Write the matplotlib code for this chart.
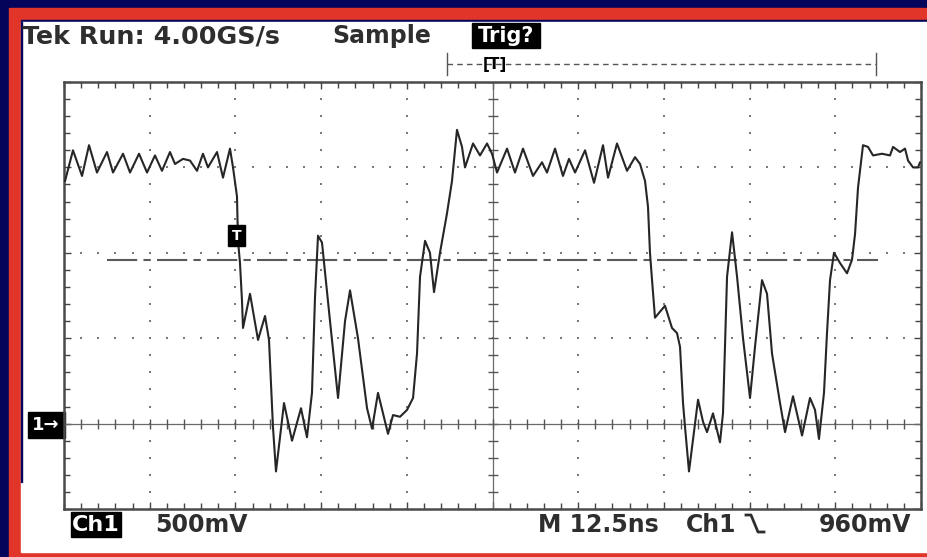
import numpy as np
import matplotlib
matplotlib.use('Agg')
import matplotlib.pyplot as plt
from matplotlib.patches import Rectangle

# ---- data (time in ns from left edge, volts) ----
time_ns = [0.15, 1.31, 2.63, 3.65, 4.81, 6.27, 7.15, 8.61, 9.63, 10.94,
           12.11, 13.27, 14.29, 15.46, 16.19, 17.36, 18.38, 19.40, 20.27, 21.00,
           22.32, 23.19, 24.21, 24.65, 25.23, 25.38, 25.67, 25.96, 26.11, 27.13,
           28.30, 29.32, 29.90, 30.48, 30.92, 32.09, 33.26, 34.57, 35.44, 36.17,
           36.61, 37.05, 37.63, 38.80, 39.97, 40.99, 41.72, 42.88, 44.20, 44.93,
           45.80, 47.26, 47.99, 49.01, 50.03, 50.91, 51.49, 51.93, 52.66, 53.38,
           53.97, 54.84, 55.86, 56.59, 57.32, 58.05, 58.49, 59.66, 60.68, 61.70,
           62.43, 63.16, 64.62, 65.78, 66.95, 68.41, 69.72, 70.45, 71.62, 72.78,
           73.66, 74.54, 76.00, 77.31, 78.62, 79.35, 80.66, 82.12, 83.29, 84.02,
           84.75, 85.18, 85.47, 85.77, 86.20, 87.66, 88.68, 89.41, 89.85, 90.29,
           90.58, 91.16, 92.48, 93.21, 93.79, 94.66, 95.68, 96.12, 96.71, 97.44,
           98.17, 99.04, 100.06, 100.79, 101.81, 102.54, 103.27, 104.44, 105.17, 106.33,
           107.65, 108.81, 109.54, 110.12, 110.85, 111.29, 111.73, 112.31, 113.19, 114.21,
           114.94, 115.38, 115.81, 116.54, 117.27, 118.00, 119.31, 120.48, 120.92, 121.94,
           122.67, 123.11, 123.84, 124.57, 124.86]
volts = [1.42, 1.60, 1.45, 1.63, 1.47, 1.59, 1.47, 1.58, 1.47, 1.58,
         1.47, 1.57, 1.48, 1.59, 1.52, 1.55, 1.54, 1.48, 1.58, 1.50,
         1.59, 1.44, 1.61, 1.50, 1.33, 1.07, 0.94, 0.72, 0.56, 0.76,
         0.49, 0.63, 0.49, -0.02, -0.28, 0.12, -0.10, 0.09, -0.08, 0.18,
         0.74, 1.10, 1.06, 0.60, 0.15, 0.60, 0.78, 0.50, 0.09, -0.03,
         0.18, -0.06, 0.05, 0.04, 0.08, 0.15, 0.41, 0.86, 1.07, 1.00,
         0.77, 1.00, 1.23, 1.42, 1.72, 1.62, 1.50, 1.64, 1.57, 1.64,
         1.58, 1.47, 1.61, 1.47, 1.61, 1.45, 1.53, 1.47, 1.61, 1.45,
         1.55, 1.47, 1.60, 1.41, 1.63, 1.44, 1.64, 1.48, 1.56, 1.52,
         1.42, 1.27, 1.00, 0.84, 0.62, 0.69, 0.56, 0.53, 0.45, 0.12,
         -0.02, -0.28, 0.14, 0.01, -0.05, 0.06, -0.11, 0.06, 0.86, 1.12,
         0.86, 0.50, 0.15, 0.45, 0.84, 0.76, 0.41, 0.12, -0.05, 0.16,
         -0.07, 0.15, 0.08, -0.09, 0.18, 0.53, 0.84, 1.00, 0.94, 0.88,
         0.96, 1.11, 1.38, 1.63, 1.62, 1.57, 1.58, 1.57, 1.62, 1.59,
         1.61, 1.54, 1.50, 1.50, 1.53]

trigger_level_v = 0.96
trigger_mark_t, trigger_mark_v = 25.2, 1.10
ns_per_div = 12.5
v_per_div = 0.5
n_hdiv = 10
v_min, v_max = -0.5, 2.0

header_left = "Tek Run: 4.00GS/s"
header_mode = "Sample"
header_trig = "Trig?"
footer_ch = "Ch1"
footer_scale = "500mV"
footer_time = "M 12.5ns"
footer_src = "Ch1"
footer_level = "960mV"

NAVY = '#03045a'
RED = '#e1352a'
INK = '#2e2e2e'

W, H = 928, 557
fig = plt.figure(figsize=(W / 100, H / 100), dpi=100)

# ---- background frame (pixel coordinates) ----
bg = fig.add_axes([0, 0, 1, 1], zorder=0)
bg.set_xlim(0, W)
bg.set_ylim(H, 0)
bg.axis('off')
bg.add_patch(Rectangle((0, 0), W, H, color=NAVY))
bg.add_patch(Rectangle((9, 8), W - 9, H - 8, color=RED))
bg.add_patch(Rectangle((21, 20), W - 21, 2, color=NAVY))
bg.add_patch(Rectangle((21, 22), W - 21, 530, color='white'))
bg.add_patch(Rectangle((21, 22), 1.5, 460, color=NAVY))

tfont = dict(family='DejaVu Sans', fontsize=17, fontweight='bold', color=INK)
bg.text(22, 36, header_left, ha='left', va='center', family='DejaVu Sans',
        fontsize=18.3, fontweight='bold', color=INK)
bg.text(332, 36, header_mode, ha='left', va='center', **tfont)
bg.add_patch(Rectangle((472, 23), 68, 25, color='black'))
bg.text(506, 36, header_trig, ha='center', va='center', family='DejaVu Sans',
        fontsize=15, fontweight='bold', color='white')

# trigger position bar
bg.plot([447, 876], [64, 64], color='#555555', lw=1.0, ls=(0, (4, 3)))
bg.plot([447, 447], [53, 75], color='#555555', lw=1.0)
bg.plot([876, 876], [53, 75], color='#555555', lw=1.0)
bg.text(495, 64, "[T]", ha='center', va='center', family='DejaVu Sans',
        fontsize=11, fontweight='bold', color='black')

# footer
bg.add_patch(Rectangle((71, 512), 50, 25, color='black'))
bg.text(96, 525, footer_ch, ha='center', va='center', family='DejaVu Sans',
        fontsize=16, fontweight='bold', color='white')
bg.text(155, 525, footer_scale, ha='left', va='center', **tfont)
bg.text(538, 525, footer_time, ha='left', va='center', **tfont)
bg.text(686, 525, footer_src, ha='left', va='center', **tfont)
bg.plot([746, 751, 758, 764], [515, 515, 532, 532], color=INK, lw=2.0)
bg.text(911, 525, footer_level, ha='right', va='center', **tfont)

# channel ground marker
bg.add_patch(Rectangle((28, 412), 37, 26, color='black'))
bg.text(46, 425, "1\u2192", ha='center', va='center', family='DejaVu Sans',
        fontsize=13, fontweight='bold', color='white')

# ---- graticule axes ----
ax = fig.add_axes([64 / W, (H - 509) / H, 857 / W, 427 / H], zorder=1)
ax.set_facecolor('none')
t_max = n_hdiv * ns_per_div
ax.set_xlim(0, t_max)
ax.set_ylim(v_min, v_max)
xmaj = np.arange(0, t_max + 1e-9, ns_per_div)
xmin = np.arange(0, t_max + 1e-9, ns_per_div / 5)
ymaj = np.arange(v_min, v_max + 1e-9, v_per_div)
ymin = np.arange(v_min, v_max + 1e-9, v_per_div / 5)
ax.set_xticks(xmaj)
ax.set_xticks(xmin, minor=True)
ax.set_yticks(ymaj)
ax.set_yticks(ymin, minor=True)
ax.tick_params(which='both', direction='in', top=True, right=True,
               labelbottom=False, labelleft=False, color='#444444', width=1.0)
ax.tick_params(which='major', length=5)
ax.tick_params(which='minor', length=4)
for s in ax.spines.values():
    s.set_color('#4a4a4a')
    s.set_linewidth(1.8)

t_center = t_max / 2
# dotted grid
for xv in xmaj[1:-1]:
    if abs(xv - t_center) < 1e-6:
        continue
    ax.plot(np.full_like(ymin, xv), ymin, ls='none', marker='s', ms=1.8,
            color='#7a7a7a', mew=0)
for yv in ymaj[1:-1]:
    if abs(yv) < 1e-6:
        continue
    ax.plot(xmin, np.full_like(xmin, yv), ls='none', marker='s', ms=1.8,
            color='#7a7a7a', mew=0)
# center cross lines with ticks
ax.axvline(t_center, color='#6a6a6a', lw=0.9)
ax.plot(np.full_like(ymin, t_center), ymin, ls='none', marker='_', ms=7,
        color='#555555', mew=1.0)
ax.axhline(0, color='#6a6a6a', lw=0.9)
ax.plot(xmin, np.zeros_like(xmin), ls='none', marker='|', ms=7,
        color='#555555', mew=1.0)

# trigger level dash-dot line
ax.plot([6.3, 118.7], [trigger_level_v, trigger_level_v], color='#5a5a5a',
        lw=1.5, ls=(0, (14.5, 3, 3.5, 3)), zorder=3)

# waveform
ax.plot(time_ns, volts, color='#262626', lw=1.5, zorder=5,
        solid_joinstyle='round', solid_capstyle='round')

# trigger marker
ax.text(trigger_mark_t, trigger_mark_v, "T", ha='center', va='center',
        family='DejaVu Sans', fontsize=10, fontweight='bold', color='white',
        zorder=6, bbox=dict(boxstyle='square,pad=0.25', fc='black', ec='black'))

fig.savefig('out.png', dpi=100)
